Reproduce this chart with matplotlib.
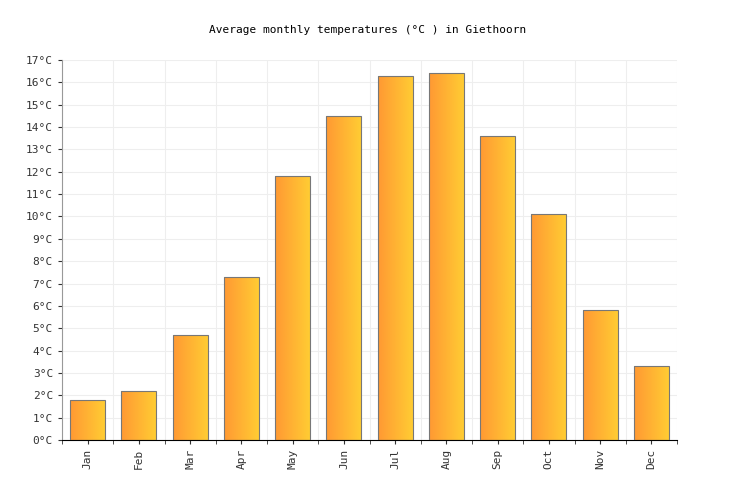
import matplotlib
matplotlib.use("Agg")
import matplotlib.pyplot as plt
import numpy as np
from matplotlib.colors import LinearSegmentedColormap

months = ["Jan","Feb","Mar","Apr","May","Jun","Jul","Aug","Sep","Oct","Nov","Dec"]
temps = [1.8, 2.2, 4.7, 7.3, 11.8, 14.5, 16.3, 16.4, 13.6, 10.1, 5.8, 3.3]
yticks = list(range(0, 18))

plt.rcParams["font.family"] = "DejaVu Sans Mono"
fig = plt.figure(figsize=(7.36, 5.0), dpi=100)
ax = fig.add_axes([62/736, 60/500, 615/736, 380/500])
cmap = LinearSegmentedColormap.from_list("g", ["#ff9933", "#ffcc33"])
grad = np.linspace(0, 1, 64).reshape(1, -1)
x = np.arange(len(months))
w = 0.68
bars = ax.bar(x, temps, width=w, color="none", edgecolor="#777777", linewidth=0.8, zorder=3)
for b in bars:
    bx, by = b.get_x(), b.get_y()
    im = ax.imshow(grad, cmap=cmap, aspect="auto", extent=[bx, bx + b.get_width(), by, by + b.get_height()], zorder=2)
    im.set_clip_path(b)
ax.set_xlim(-0.5, len(months) - 0.5)
ax.set_ylim(0, 17)
ax.set_yticks(yticks)
ax.set_yticklabels([f"{v}°C" for v in yticks], fontsize=8)
ax.set_xticks(x)
ax.set_xticklabels(months, rotation=90, fontsize=8)
ax.grid(True, color="#eeeeee", linewidth=0.8, zorder=0)
ax.set_xticks(np.arange(-0.5, len(months), 1), minor=True)
ax.grid(True, which="minor", axis="x", color="#eeeeee", linewidth=0.8)
ax.tick_params(axis="x", which="major", grid_alpha=0)
for s in ["top", "right"]:
    ax.spines[s].set_visible(False)
ax.spines["left"].set_color("#999999")
ax.spines["bottom"].set_color("#000000")
ax.tick_params(length=3, colors="#333333", which="both")
fig.text(0.5, 1 - 30/500, "Average monthly temperatures (°C ) in Giethoorn", ha="center", va="center", fontsize=8)
fig.savefig("out.png", dpi=100)
